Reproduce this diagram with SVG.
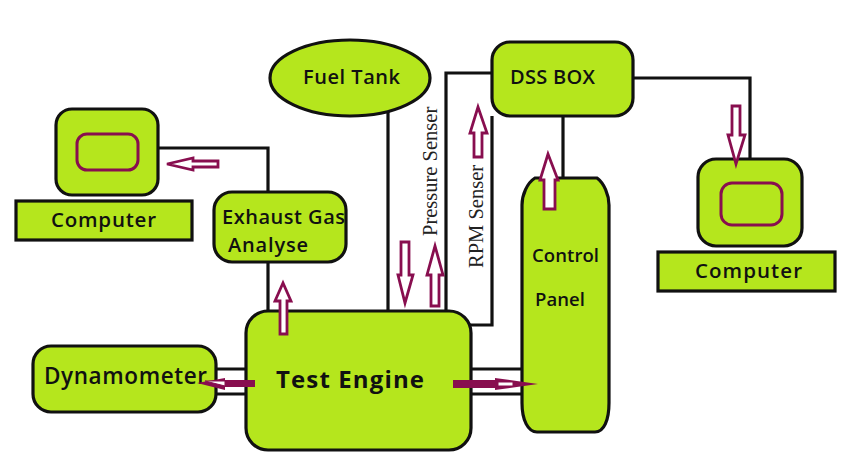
<svg xmlns="http://www.w3.org/2000/svg" width="849" height="452" viewBox="0 0 849 452">
<style>
.n{fill:#b5e61d;stroke:#111;stroke-width:3.2}
.s{fill:none;stroke:#880e4f;stroke-width:3}
.c{fill:none;stroke:#111;stroke-width:3.2}
.a{fill:#fff;stroke:#880e4f;stroke-width:2.8;stroke-linejoin:miter}
.b{fill:#880e4f}
text{font-family:"Open Sans","Noto Sans",sans-serif;fill:#111;font-size:21px;font-weight:600}
.r{font-family:"Liberation Serif",serif;font-size:20.5px;font-weight:400;fill:#222}
</style>
<rect width="849" height="452" fill="#fff"/>
<g id="connectors">
<path class="c" d="M158 148H268V192M268 262V312"/>
<path class="c" d="M388 112V312"/>
<path class="c" d="M492 73H446V312"/>
<path class="c" d="M492 116V325H468"/>
<path class="c" d="M563 116V178"/>
<path class="c" d="M633 78H750V158"/>
<path class="c" d="M216 369H246M216 394H246"/>
<path class="c" d="M471 369H522M471 394H522"/>
</g>
<g id="computer-left">
<rect class="n" x="56" y="109" width="102" height="86" rx="16"/>
<rect class="s" x="77" y="134" width="61" height="36" rx="10"/>
</g>
<g id="computer-left-label">
<rect class="n" x="16" y="201" width="176" height="39"/>
<text x="51" y="227" textLength="105" style="font-size:20.5px">Computer</text>
</g>
<g id="exhaust">
<rect class="n" x="214" y="192" width="132" height="70" rx="18"/>
<text x="222" y="224" textLength="123" style="font-size:20px">Exhaust Gas</text>
<text x="228" y="252" textLength="80" style="font-size:20px">Analyse</text>
</g>
<g id="fuel-tank">
<ellipse class="n" cx="350" cy="78" rx="80" ry="38"/>
<text x="303" y="84" textLength="97" style="font-size:20px">Fuel Tank</text>
</g>
<g id="dss-box">
<rect class="n" x="492" y="42" width="141" height="74" rx="18"/>
<text x="510" y="84" textLength="85" style="font-size:20px">DSS BOX</text>
</g>
<g id="control-panel">
<path class="n" d="M535 178H597C604 183 609 195 609 205V403C609 420 604 432 595 432H537C528 432 522 420 522 403V205C522 195 527 183 535 178Z"/>
<text x="532" y="262" textLength="67" style="font-size:18.5px">Control</text>
<text x="535" y="306" textLength="50" style="font-size:18.5px">Panel</text>
</g>
<g id="computer-right">
<rect class="n" x="698" y="159" width="104" height="87" rx="18"/>
<rect class="s" x="721" y="183" width="61" height="42" rx="11"/>
</g>
<g id="computer-right-label">
<rect class="n" x="658" y="252" width="177" height="39"/>
<text x="695" y="278" textLength="107" style="font-size:20.5px">Computer</text>
</g>
<g id="dynamometer">
<rect class="n" x="33" y="346" width="183" height="66" rx="18"/>
<text x="44" y="384" textLength="163" style="font-size:22.5px">Dynamometer</text>
</g>
<g id="test-engine">
<rect class="n" x="246" y="311" width="225" height="139" rx="22"/>
<text x="276" y="388" textLength="148" style="font-size:24px;font-weight:700">Test Engine</text>
</g>
<text class="r" x="0" y="0" transform="translate(437 236) rotate(-90)">Pressure Senser</text>
<text class="r" x="0" y="0" transform="translate(483 268) rotate(-90)">RPM Senser</text>
<g id="arrows">
<path class="a" d="M218 161V167H193V170L167 164L193 158V161Z"/>
<path class="a" d="M280 334V301H275L283 283L291 301H287V334Z"/>
<path class="a" d="M401 242H409V275H413L405 303L398 275H401Z"/>
<path class="a" d="M431 306V275H427L435 246L443 275H439V306Z"/>
<path class="a" d="M474 157V133H470L478 107L487 133H482V157Z"/>
<path class="a" d="M544 209V180H540L548 154L558 180H555V209Z"/>
<path class="a" d="M732 106H740V135H745L736 164L728 135H732Z"/>
<path class="b" d="M255 380V387H225V390L197 383L225 378V380Z"/>
<path class="a" d="M225 381H205L225 386Z" style="stroke-width:1"/>
<path class="b" d="M453 380H495V378L538 384L495 390V388H453Z"/>
<path class="a" d="M498 382H513V386H498Z" style="stroke-width:1"/>
</g>
</svg>
